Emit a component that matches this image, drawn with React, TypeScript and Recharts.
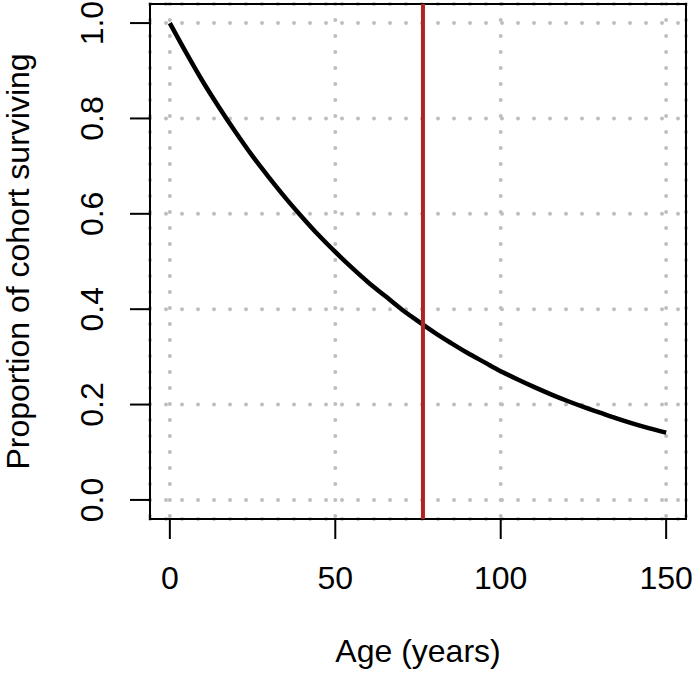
import React from 'react'
import { LineChart, Line, XAxis, YAxis, CartesianGrid, ReferenceLine, ReferenceArea, Label } from 'recharts'

// ages (years) and proportion of the cohort still alive
const ages = [0, 5, 10, 15, 20, 25, 30, 35, 40, 45, 50, 55, 60, 65, 70, 75, 80, 85, 90, 95, 100, 105, 110, 115, 120, 125, 130, 135, 140, 145, 150]
const surviving = [1.0, 0.937, 0.877, 0.822, 0.77, 0.721, 0.676, 0.633, 0.593, 0.555, 0.52, 0.487, 0.456, 0.428, 0.4, 0.375, 0.351, 0.329, 0.308, 0.289, 0.27, 0.253, 0.237, 0.222, 0.208, 0.195, 0.183, 0.171, 0.16, 0.15, 0.141]
const meanAge = 76.5

const xTicks = [0, 50, 100, 150]
const yTicks = [0, 0.2, 0.4, 0.6, 0.8, 1.0]
const xDomain: [number, number] = [-6, 156]
const yDomain: [number, number] = [-0.04, 1.04]

const FONT = '"Liberation Sans", Arial, Helvetica, sans-serif'

const data = ages.map((age, i) => ({ age, p: surviving[i] }))

const XTick = (props: any) => {
  const { x, y, payload } = props
  return (
    <text x={x} y={y + 50} textAnchor="middle" fontSize={32} fontFamily={FONT} fill="#000">
      {payload.value}
    </text>
  )
}

const YTick = (props: any) => {
  const { x, y, payload } = props
  const bx = x - 27
  return (
    <text x={bx} y={y} transform={`rotate(-90, ${bx}, ${y})`} textAnchor="middle" fontSize={32} fontFamily={FONT} fill="#000">
      {Number(payload.value).toFixed(1)}
    </text>
  )
}

const App = () => {
  return (
    <div style={{ position: 'absolute', left: 0, top: 0, background: '#fff' }}>
      <LineChart width={693} height={676} data={data} margin={{ top: 4, right: 7, bottom: 0, left: 0 }}>
        <CartesianGrid
          stroke="#bebebe"
          strokeWidth={4}
          strokeDasharray="0 16"
          strokeLinecap="round"
        />
        <XAxis
          dataKey="age"
          type="number"
          domain={xDomain}
          ticks={xTicks}
          height={157}
          axisLine={false}
          tickSize={20}
          tickMargin={0}
          tickLine={{ stroke: '#000', strokeWidth: 2 }}
          tick={<XTick />}
          interval={0}
        >
          <Label
            content={(p: any) => {
              const vb = p.viewBox
              return (
                <text x={vb.x + vb.width / 2} y={vb.y + 143} textAnchor="middle" fontSize={32} fontFamily={FONT} fill="#000">
                  Age (years)
                </text>
              )
            }}
          />
        </XAxis>
        <YAxis
          type="number"
          domain={yDomain}
          ticks={yTicks}
          width={150}
          axisLine={false}
          tickSize={20}
          tickMargin={0}
          tickLine={{ stroke: '#000', strokeWidth: 2 }}
          tick={<YTick />}
          interval={0}
        >
          <Label
            content={(p: any) => {
              const vb = p.viewBox
              const cx = 29
              const cy = vb.y + vb.height / 2
              return (
                <text x={cx} y={cy} transform={`rotate(-90, ${cx}, ${cy})`} textAnchor="middle" fontSize={32} fontFamily={FONT} fill="#000">
                  Proportion of cohort surviving
                </text>
              )
            }}
          />
        </YAxis>
        <ReferenceArea x1={xDomain[0]} x2={xDomain[1]} y1={yDomain[0]} y2={yDomain[1]} fill="none" stroke="#000" strokeWidth={2} fillOpacity={0} />
        <Line
          dataKey="p"
          type="monotone"
          stroke="#000"
          strokeWidth={4.5}
          dot={false}
          isAnimationActive={false}
        />
        <ReferenceLine x={meanAge} stroke="#b22222" strokeWidth={4} />
      </LineChart>
    </div>
  )
}

export default App
